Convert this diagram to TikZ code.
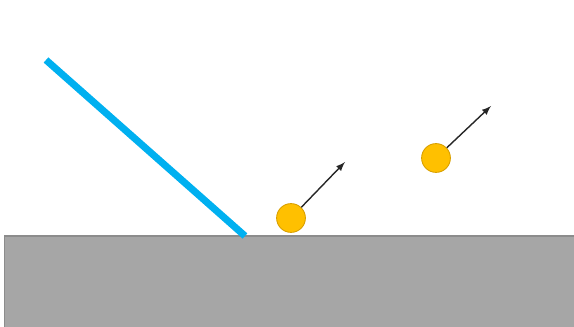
\documentclass[tikz,border=0pt]{standalone}
\usepackage{tikz}

\definecolor{rayblue}{HTML}{00B0F0}
\definecolor{ballfill}{HTML}{FFC000}
\definecolor{balledge}{HTML}{D9A000}
\definecolor{groundgray}{HTML}{A6A6A6}
\definecolor{groundedge}{HTML}{8C8C8C}

\tikzset{
  ball/.style={circle,fill=ballfill,draw=balledge,line width=0.5pt,minimum size=16.4pt,inner sep=0pt},
  motion/.style={-latex,line width=0.8pt,black!85}
}

\begin{document}
\begin{tikzpicture}[x=0.02cm,y=-0.02cm]
\useasboundingbox (0,0) rectangle (574,327);

% Ground block at the bottom
\draw[fill=groundgray,draw=groundedge,line width=0.6pt] (4.5,236) rectangle (580,335);

% Incoming ray hitting the surface
\draw[rayblue,line width=4pt] (46,60) -- (245,236);

% Emitted particles with their directions of flight
\node[ball] (ball1) at (291,218) {};
\coordinate (tip1) at (345,162);
\draw[motion] (ball1) -- (tip1);

\node[ball] (ball2) at (436,158) {};
\coordinate (tip2) at (491,106);
\draw[motion] (ball2) -- (tip2);

\end{tikzpicture}
\end{document}
